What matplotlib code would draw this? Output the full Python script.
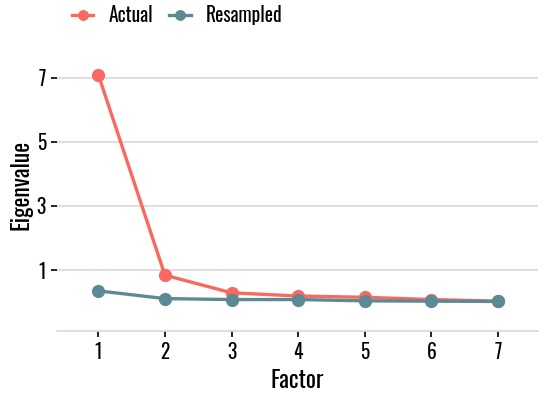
import matplotlib
matplotlib.use('Agg')
import matplotlib.pyplot as plt

factors = [1, 2, 3, 4, 5, 6, 7]
actual = [7.09, 0.84, 0.29, 0.19, 0.15, 0.08, 0.03]
resampled = [0.35, 0.11, 0.08, 0.08, 0.04, 0.03, 0.02]

plt.rcParams['font.family'] = ['Oswald', 'DejaVu Sans']
plt.rcParams['font.weight'] = 'light'

fig = plt.figure(figsize=(5.5, 3.99), dpi=100)
ax = fig.add_axes([57 / 550, 68 / 399, 481 / 550, 1 - 39 / 399 - 68 / 399])

ax.plot(factors, actual, color='#F8695F', lw=2.4, marker='o', ms=8.5, label='Actual', zorder=3)
ax.plot(factors, resampled, color='#5B8A94', lw=2.4, marker='o', ms=8.5, label='Resampled', zorder=4)

ax.set_xlim(0.38, 7.6)
ax.set_ylim(-0.9, 8.2)
ax.set_xticks(factors)
ax.set_yticks([1, 3, 5, 7])
ax.grid(axis='y', color='#D9D9D9', lw=1.2)
ax.set_axisbelow(True)
for s in ['top', 'right', 'left']:
    ax.spines[s].set_visible(False)
ax.spines['bottom'].set_color('#D9D9D9')
ax.spines['bottom'].set_linewidth(1.2)
ax.tick_params(axis='both', length=4, width=1.2, color='black', labelsize=14, pad=4)
ax.set_xlabel('Factor', fontsize=17, labelpad=5)
ax.set_ylabel('Eigenvalue', fontsize=17, labelpad=3)

fig.legend(loc='center left', bbox_to_anchor=(72 / 550, 1 - 15 / 399), ncol=2, frameon=False,
           fontsize=14, handlelength=1.1, columnspacing=0.8, handletextpad=0.8,
           borderpad=0, borderaxespad=0, markerscale=0.8)

plt.savefig('out.png', dpi=100)
